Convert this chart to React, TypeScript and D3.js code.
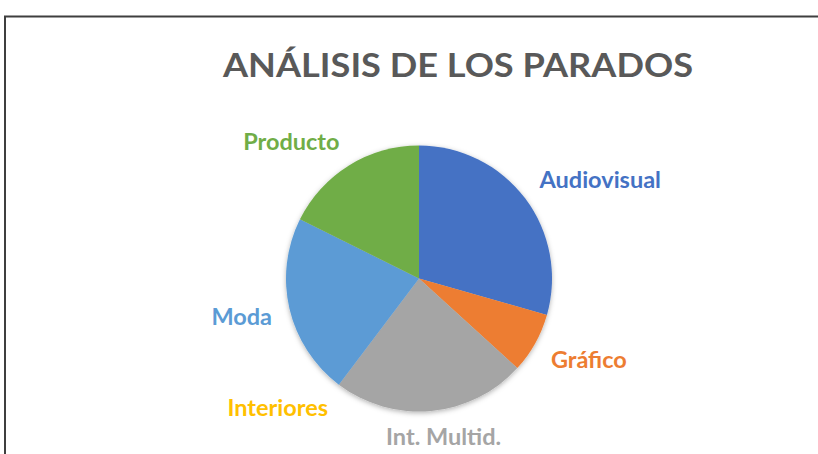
import React, { useEffect, useRef } from "react";
import * as d3 from "d3";

const categories = ["Audiovisual", "Gráfico", "Int. Multid.", "Interiores", "Moda", "Producto"];
const values = [20, 5, 16, 0, 15, 12];
const colors = ["#4472C4", "#ED7D31", "#A5A5A5", "#FFC000", "#5B9BD5", "#70AD47"];
const title = "ANÁLISIS DE LOS PARADOS";

const W = 818;
const H = 454;

export default function App() {
  const svgRef = useRef<SVGSVGElement>(null);

  useEffect(() => {
    const svg = d3.select(svgRef.current);
    svg.selectAll("*").remove();

    const cx = 419;
    const cy = 278.5;
    const radius = 133;
    const labelRadius = 151;
    const font = "Lato, 'Open Sans', sans-serif";

    // chart area border (runs off the page right/bottom)
    svg.append("rect")
      .attr("x", 5).attr("y", 16.5)
      .attr("width", W + 20).attr("height", H + 20)
      .attr("fill", "#fff")
      .attr("stroke", "#3f3f3f")
      .attr("stroke-width", 2);

    const defs = svg.append("defs");
    const f = defs.append("filter").attr("id", "pieShadow")
      .attr("x", "-20%").attr("y", "-20%").attr("width", "140%").attr("height", "140%");
    f.append("feDropShadow")
      .attr("dx", 0).attr("dy", 1.5)
      .attr("stdDeviation", 2.5)
      .attr("flood-color", "#000")
      .attr("flood-opacity", 0.3);

    svg.append("text")
      .attr("x", 458).attr("y", 76.7)
      .attr("text-anchor", "middle")
      .attr("textLength", 470)
      .attr("lengthAdjust", "spacingAndGlyphs")
      .style("font-family", font)
      .style("font-weight", 700)
      .style("font-size", "33px")
      .style("fill", "#595959")
      .text(title);

    const data = categories.map((c, i) => ({ name: c, value: values[i], color: colors[i] }));
    const pie = d3.pie<any>().value((d) => d.value).sort(null);
    const arcs = pie(data);
    const arc = d3.arc<any>().innerRadius(0).outerRadius(radius);

    const g = svg.append("g").attr("transform", `translate(${cx},${cy})`);
    g.append("g").attr("filter", "url(#pieShadow)")
      .selectAll("path")
      .data(arcs.filter((a) => a.value > 0))
      .join("path")
      .attr("d", arc)
      .attr("fill", (d) => d.data.color);

    // outside-end labels, box pushed away from the pie along the slice's mid angle
    const capH = 16.5;
    const clamp = (v: number) => Math.max(-1, Math.min(1, v));
    arcs.forEach((a) => {
      const mid = (a.startAngle + a.endAngle) / 2;
      const s = Math.sin(mid);
      const c = Math.cos(mid);
      const px = s * labelRadius;
      const py = -c * labelRadius;
      const t = g.append("text")
        .style("font-family", font)
        .style("font-weight", 700)
        .style("font-size", "23.5px")
        .style("fill", a.data.color)
        .text(a.data.name);
      const w = (t.node() as SVGTextElement).getComputedTextLength();
      const x = px + clamp(s * 2) * w / 2 - w / 2;
      const yMid = py - clamp(c * 2) * capH / 2;
      t.attr("x", x).attr("y", yMid + capH / 2);
    });
  }, []);

  return (
    <svg
      ref={svgRef}
      width={W}
      height={H}
      style={{ position: "absolute", left: 0, top: 0, background: "#fff" }}
    />
  );
}
